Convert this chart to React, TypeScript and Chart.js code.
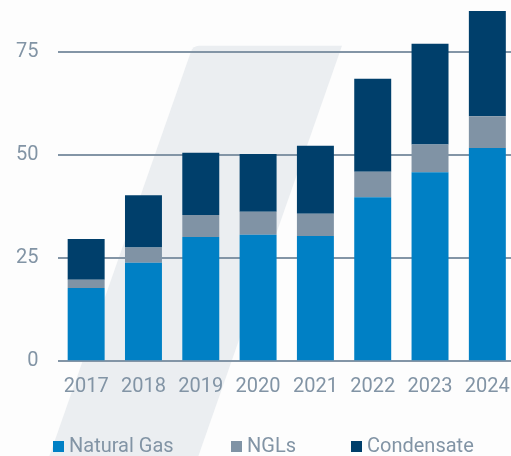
import React, { useEffect, useRef } from "react";
import { Chart, registerables } from "chart.js";

Chart.register(...registerables);

const years = ["2017", "2018", "2019", "2020", "2021", "2022", "2023", "2024"];
const naturalGas = [17.8, 23.9, 30.2, 30.7, 30.4, 39.8, 45.9, 51.8];
const ngls = [2.0, 3.7, 5.3, 5.6, 5.4, 6.2, 6.7, 7.7];
const condensate = [9.9, 12.7, 15.1, 14.0, 16.5, 22.6, 24.5, 25.5];
const yTicks = [0, 25, 50, 75];

const seriesNames = ["Natural Gas", "NGLs", "Condensate"];
const seriesColors = ["#0080c5", "#8093a5", "#003f6b"];

const TEXT = "#8294a5";
const GRID = "#8395a6";

const backdrop = {
  id: "backdrop",
  beforeDraw(chart: any) {
    const ctx = chart.ctx;
    const w = chart.width;
    const h = chart.height;
    ctx.save();
    ctx.fillStyle = "#fdfdfd";
    ctx.fillRect(0, 0, w, h);
    const top = 45.7;
    const slope = 0.35;
    const tl = 193;
    const tr = 342;
    const bottom = h + 20;
    const dy = bottom - top;
    const r = 6;
    ctx.fillStyle = "#ebeef1";
    ctx.beginPath();
    ctx.moveTo(tl - slope * r, top + r);
    ctx.quadraticCurveTo(tl, top, tl + r, top);
    ctx.lineTo(tr, top);
    ctx.lineTo(tr - slope * dy, bottom);
    ctx.lineTo(tl - slope * dy, bottom);
    ctx.closePath();
    ctx.fill();
    ctx.restore();
  },
};

export default function App() {
  const ref = useRef<HTMLCanvasElement>(null);

  useEffect(() => {
    if (!ref.current) return;
    const seriesData = [naturalGas, ngls, condensate];
    const chart = new Chart(ref.current, {
      type: "bar",
      data: {
        labels: years,
        datasets: seriesNames.map((name, i) => ({
          label: name,
          data: seriesData[i],
          backgroundColor: seriesColors[i],
          borderWidth: 0,
          barPercentage: 0.645,
          categoryPercentage: 1,
          clip: false as any,
        })),
      },
      options: {
        animation: false,
        responsive: false,
        devicePixelRatio: 1,
        layout: { padding: 0 },
        plugins: {
          legend: { display: false },
          tooltip: { enabled: false },
        },
        scales: {
          x: {
            stacked: true,
            grid: { display: false, drawTicks: false },
            border: { display: false },
            ticks: {
              color: TEXT,
              padding: 13.4,
              font: { family: "Roboto", size: 20 },
              maxRotation: 0,
            },
            afterFit: (scale: any) => {
              scale.height = 94.7;
              scale.paddingLeft = 0;
              scale.paddingRight = 0;
            },
          },
          y: {
            stacked: true,
            min: 0,
            max: 87.7,
            grid: { color: GRID, lineWidth: 2, drawTicks: false },
            border: { display: false },
            ticks: {
              color: TEXT,
              padding: 19,
              font: { family: "Roboto", size: 20 },
            },
            afterBuildTicks: (scale: any) => {
              scale.ticks = yTicks.map((v) => ({ value: v }));
            },
            afterFit: (scale: any) => {
              scale.width = 57.5;
              scale.paddingTop = 0;
              scale.paddingBottom = 0;
            },
          },
        },
      },
      plugins: [backdrop],
    });
    return () => chart.destroy();
  }, []);

  const legendLeft = [53, 231, 351];

  return (
    <div
      style={{
        position: "fixed",
        left: 0,
        top: 0,
        width: 516,
        height: 456,
        overflow: "hidden",
      }}
    >
      <canvas ref={ref} width={516} height={456} style={{ display: "block" }} />
      {seriesNames.map((name, i) => (
        <div
          key={name}
          style={{
            position: "absolute",
            left: legendLeft[i],
            top: 433.2,
            display: "flex",
            alignItems: "flex-start",
            fontFamily: "Roboto",
            fontSize: 20,
            lineHeight: "24px",
            color: TEXT,
            whiteSpace: "nowrap",
          }}
        >
          <span
            style={{
              display: "inline-block",
              width: 11,
              height: 11,
              marginTop: 8,
              marginRight: 5,
              background: seriesColors[i],
            }}
          />
          <span>{name}</span>
        </div>
      ))}
    </div>
  );
}
